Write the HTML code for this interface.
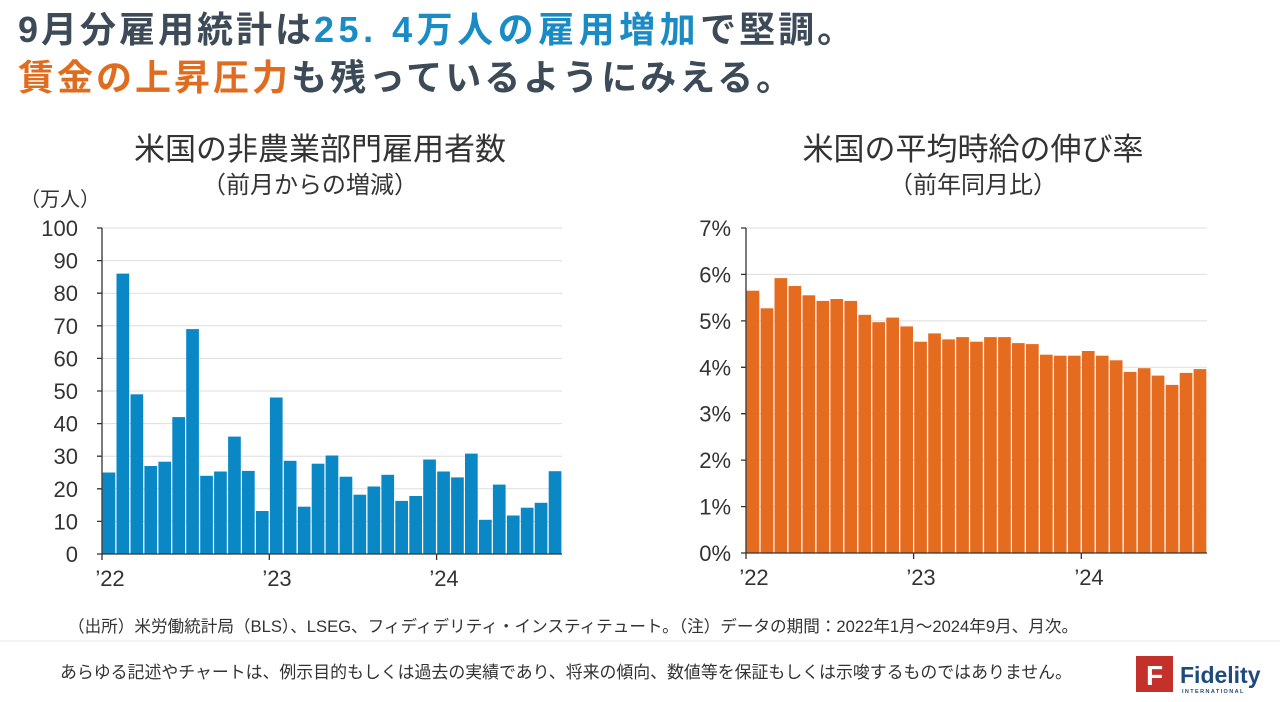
<!DOCTYPE html>
<html><head><meta charset="utf-8"><style>
body{margin:0;width:1280px;height:702px;background:#fff;overflow:hidden;font-family:"Liberation Sans","Noto Sans CJK JP",sans-serif;position:relative}
.t{position:absolute;left:18px;font-size:36px;font-weight:bold;color:#3d4a57;white-space:nowrap;letter-spacing:3px;line-height:40px}
</style></head><body>
<div class="t" style="top:10px">9月分雇用統計は<span style="color:#1a8bc4;letter-spacing:4.5px">25. 4万人の雇用増加</span>で堅調。</div>
<div class="t" style="top:58px"><span style="color:#e06d1f">賃金の上昇圧力</span>も残っているようにみえる。</div>
<svg width="1280" height="702" style="position:absolute;left:0;top:0" font-family="Liberation Sans, Noto Sans CJK JP, sans-serif">
<g fill="#333" text-anchor="middle">
<text x="320" y="160" font-size="31">米国の非農業部門雇用者数</text>
<text x="310" y="193" font-size="24">（前月からの増減）</text>
<text x="973" y="160" font-size="31">米国の平均時給の伸び率</text>
<text x="973" y="193" font-size="24">（前年同月比）</text>
</g>
<text x="20" y="206" font-size="20" fill="#333">（万人）</text>
<g stroke="#ddd" stroke-width="1">
<line x1="102" x2="562" y1="228" y2="228"/><line x1="102" x2="562" y1="260.6" y2="260.6"/><line x1="102" x2="562" y1="293.2" y2="293.2"/><line x1="102" x2="562" y1="325.8" y2="325.8"/><line x1="102" x2="562" y1="358.4" y2="358.4"/><line x1="102" x2="562" y1="391" y2="391"/><line x1="102" x2="562" y1="423.6" y2="423.6"/><line x1="102" x2="562" y1="456.2" y2="456.2"/><line x1="102" x2="562" y1="488.8" y2="488.8"/><line x1="102" x2="562" y1="521.4" y2="521.4"/>
<line x1="746" x2="1207" y1="228" y2="228"/><line x1="746" x2="1207" y1="274.4" y2="274.4"/><line x1="746" x2="1207" y1="320.9" y2="320.9"/><line x1="746" x2="1207" y1="367.3" y2="367.3"/><line x1="746" x2="1207" y1="413.7" y2="413.7"/><line x1="746" x2="1207" y1="460.1" y2="460.1"/><line x1="746" x2="1207" y1="506.6" y2="506.6"/>
</g>
<g fill="#0a88c6">
<rect x="102.6" y="472.5" width="12.7" height="81.5"/><rect x="116.5" y="273.6" width="12.7" height="280.4"/><rect x="130.5" y="394.3" width="12.7" height="159.7"/><rect x="144.4" y="466" width="12.7" height="88"/><rect x="158.4" y="461.7" width="12.7" height="92.3"/><rect x="172.3" y="417.1" width="12.7" height="136.9"/><rect x="186.2" y="329.1" width="12.7" height="224.9"/><rect x="200.2" y="475.8" width="12.7" height="78.2"/><rect x="214.1" y="471.5" width="12.7" height="82.5"/><rect x="228.1" y="436.6" width="12.7" height="117.4"/><rect x="242" y="470.9" width="12.7" height="83.1"/><rect x="255.9" y="511" width="12.7" height="43"/><rect x="269.9" y="397.5" width="12.7" height="156.5"/><rect x="283.8" y="460.8" width="12.7" height="93.2"/><rect x="297.8" y="506.7" width="12.7" height="47.3"/><rect x="311.7" y="463.7" width="12.7" height="90.3"/><rect x="325.6" y="455.5" width="12.7" height="98.5"/><rect x="339.6" y="476.7" width="12.7" height="77.3"/><rect x="353.5" y="494.7" width="12.7" height="59.3"/><rect x="367.5" y="486.5" width="12.7" height="67.5"/><rect x="381.4" y="474.8" width="12.7" height="79.2"/><rect x="395.3" y="500.9" width="12.7" height="53.1"/><rect x="409.3" y="496" width="12.7" height="58"/><rect x="423.2" y="459.5" width="12.7" height="94.5"/><rect x="437.2" y="471.5" width="12.7" height="82.5"/><rect x="451.1" y="477.4" width="12.7" height="76.6"/><rect x="465" y="453.6" width="12.7" height="100.4"/><rect x="479" y="519.8" width="12.7" height="34.2"/><rect x="492.9" y="484.6" width="12.7" height="69.4"/><rect x="506.9" y="515.5" width="12.7" height="38.5"/><rect x="520.8" y="507.7" width="12.7" height="46.3"/><rect x="534.7" y="502.8" width="12.7" height="51.2"/><rect x="548.7" y="471.2" width="12.7" height="82.8"/>
</g>
<g fill="#e56b1f">
<rect x="746.6" y="290.7" width="12.7" height="262.3"/><rect x="760.6" y="308.3" width="12.7" height="244.7"/><rect x="774.5" y="278.1" width="12.7" height="274.9"/><rect x="788.5" y="286" width="12.7" height="267"/><rect x="802.5" y="295.3" width="12.7" height="257.7"/><rect x="816.5" y="300.9" width="12.7" height="252.1"/><rect x="830.4" y="299" width="12.7" height="254"/><rect x="844.4" y="300.9" width="12.7" height="252.1"/><rect x="858.4" y="314.8" width="12.7" height="238.2"/><rect x="872.3" y="322.2" width="12.7" height="230.8"/><rect x="886.3" y="317.6" width="12.7" height="235.4"/><rect x="900.3" y="326.4" width="12.7" height="226.6"/><rect x="914.2" y="341.7" width="12.7" height="211.3"/><rect x="928.2" y="333.4" width="12.7" height="219.6"/><rect x="942.2" y="339.4" width="12.7" height="213.6"/><rect x="956.2" y="337.1" width="12.7" height="215.9"/><rect x="970.1" y="341.7" width="12.7" height="211.3"/><rect x="984.1" y="337.1" width="12.7" height="215.9"/><rect x="998.1" y="337.1" width="12.7" height="215.9"/><rect x="1012" y="343.1" width="12.7" height="209.9"/><rect x="1026" y="344.1" width="12.7" height="208.9"/><rect x="1040" y="354.7" width="12.7" height="198.3"/><rect x="1053.9" y="355.7" width="12.7" height="197.3"/><rect x="1067.9" y="355.7" width="12.7" height="197.3"/><rect x="1081.9" y="351" width="12.7" height="202"/><rect x="1095.9" y="355.7" width="12.7" height="197.3"/><rect x="1109.8" y="360.3" width="12.7" height="192.7"/><rect x="1123.8" y="371.9" width="12.7" height="181.1"/><rect x="1137.8" y="368.2" width="12.7" height="184.8"/><rect x="1151.7" y="375.6" width="12.7" height="177.4"/><rect x="1165.7" y="384.9" width="12.7" height="168.1"/><rect x="1179.7" y="372.9" width="12.7" height="180.1"/><rect x="1193.6" y="369.1" width="12.7" height="183.9"/>
</g>
<g stroke="#333" stroke-width="1.3" fill="none">
<path d="M102 228V554H562"/><path d="M97 228H102M97 260.6H102M97 293.2H102M97 325.8H102M97 358.4H102M97 391H102M97 423.6H102M97 456.2H102M97 488.8H102M97 521.4H102M97 554H102M102 554V560M269.3 554V560M436.6 554V560"/>
<path d="M746 228V553H1207"/><path d="M741 228H746M741 274.4H746M741 320.9H746M741 367.3H746M741 413.7H746M741 460.1H746M741 506.6H746M741 553H746M746 553V559M913.6 553V559M1081.3 553V559"/>
</g>
<g font-size="22" fill="#333" text-anchor="end">
<text x="78" y="236">100</text><text x="78" y="268.6">90</text><text x="78" y="301.2">80</text><text x="78" y="333.8">70</text><text x="78" y="366.4">60</text><text x="78" y="399">50</text><text x="78" y="431.6">40</text><text x="78" y="464.2">30</text><text x="78" y="496.8">20</text><text x="78" y="529.4">10</text><text x="78" y="562">0</text>
<text x="731" y="236">7%</text><text x="731" y="282.4">6%</text><text x="731" y="328.9">5%</text><text x="731" y="375.3">4%</text><text x="731" y="421.7">3%</text><text x="731" y="468.1">2%</text><text x="731" y="514.6">1%</text><text x="731" y="561">0%</text>
</g>
<g font-size="22" fill="#333" text-anchor="middle">
<text x="110" y="586">’22</text><text x="277" y="586">’23</text><text x="444" y="586">’24</text>
<text x="754" y="585">’22</text><text x="921" y="585">’23</text><text x="1089" y="585">’24</text>
</g>
<text x="68" y="632" font-size="16.6" fill="#333">（出所）米労働統計局（BLS）、LSEG、フィディデリティ・インスティテュート。（注）データの期間：2022年1月～2024年9月、月次。</text>
<line x1="0" x2="1280" y1="641" y2="641" stroke="#e4e4e4" stroke-width="1"/>
<text x="60" y="678" font-size="16.9" fill="#333">あらゆる記述やチャートは、例示目的もしくは過去の実績であり、将来の傾向、数値等を保証もしくは示唆するものではありません。</text>
<rect x="1136" y="656" width="37" height="36" fill="#c4312b"/>
<text x="1154.5" y="685" font-size="28" font-weight="bold" fill="#fff" text-anchor="middle">F</text>
<text x="1180" y="683" font-size="23" font-weight="bold" fill="#1f4a7c">Fidelity</text>
<text x="1182" y="693" font-size="5.5" font-weight="bold" fill="#1f4a7c" letter-spacing="1.4">INTERNATIONAL</text>
</svg>
</body></html>
